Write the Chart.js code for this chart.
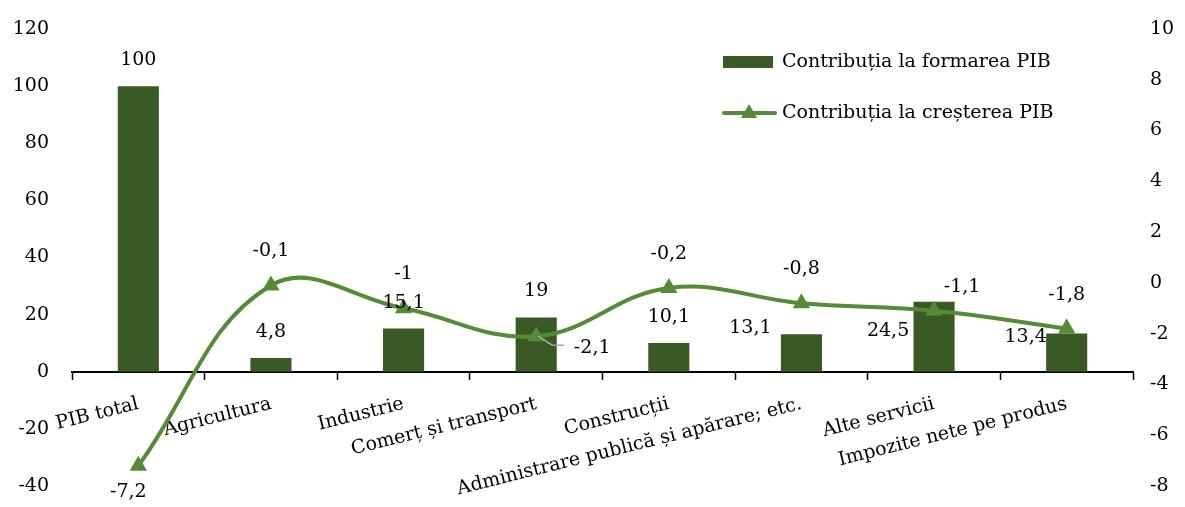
<!DOCTYPE html>
<html>
<head>
<meta charset="utf-8">
<script src="https://cdn.jsdelivr.net/npm/chart.js@4.4.1/dist/chart.umd.min.js"></script>
<style>
  html, body { margin: 0; padding: 0; background: #fff; }
  #wrap { width: 1185px; height: 507px; }
</style>
</head>
<body>
<div id="wrap"><canvas id="chart"></canvas></div>
<script>
var categorii = ['PIB total', 'Agricultura', 'Industrie', 'Comerț și transport', 'Construcții',
    'Administrare publică și apărare; etc.', 'Alte servicii', 'Impozite nete pe produs'];
var formarea = [100, 4.8, 15.1, 19, 10.1, 13.1, 24.5, 13.4];
var crestere = [-7.2, -0.1, -1, -2.1, -0.2, -0.8, -1.1, -1.8];
var numeFormarea = 'Contribuția la formarea PIB';
var numeCrestere = 'Contribuția la creșterea PIB';

// deplasari manuale ale etichetelor (px), ca in original
var nudgeBar = [[0, 0], [0, 0], [0, 0], [0, 0], [0, 0], [-51, 20], [-46, 55], [-41, 30]];
var nudgeLine = [[-10, 60], [0, 0], [0, 0], [56, 46], [0, 0], [0, 0], [28, 10], [0, 0]];

var culoareBare = '#3a5a25';
var culoareLinie = '#558a36';
var font = '"DejaVu Serif", serif';

function fmt(v) {
    return String(v).replace('.', ',');
}

// fara spatiu suplimentar sus/jos de la etichetele axelor Y
function fixY(width) {
    return function (s) {
        s.width = width;
        s.paddingTop = 0;
        s.paddingBottom = 0;
    };
}

var etichete = {
    id: 'etichete',
    afterDatasetsDraw: function (chart) {
        var ctx = chart.ctx;
        ctx.save();
        ctx.font = '19px ' + font;
        ctx.fillStyle = '#000';
        ctx.textAlign = 'center';
        ctx.textBaseline = 'middle';
        chart.getDatasetMeta(0).data.forEach(function (el, i) {
            ctx.fillText(fmt(formarea[i]), el.x + nudgeBar[i][0], el.y - 26 + nudgeBar[i][1]);
        });
        chart.getDatasetMeta(1).data.forEach(function (el, i) {
            if (i === 3) {
                ctx.strokeStyle = '#a6a6a6';
                ctx.lineWidth = 1.5;
                ctx.beginPath();
                ctx.moveTo(el.x + 2, el.y);
                ctx.lineTo(el.x + 16, el.y + 9);
                ctx.lineTo(el.x + 28, el.y + 9);
                ctx.stroke();
            }
            ctx.fillText(fmt(crestere[i]), el.x + nudgeLine[i][0], el.y - 34 + nudgeLine[i][1]);
        });
        ctx.restore();
    },
    afterDraw: function (chart) {
        var ctx = chart.ctx;
        ctx.save();
        ctx.fillStyle = culoareBare;
        ctx.fillRect(723, 56, 50, 12);
        ctx.strokeStyle = culoareLinie;
        ctx.lineWidth = 4;
        ctx.lineCap = 'round';
        ctx.beginPath();
        ctx.moveTo(724, 113);
        ctx.lineTo(775, 113);
        ctx.stroke();
        ctx.fillStyle = culoareLinie;
        ctx.beginPath();
        ctx.moveTo(749, 104);
        ctx.lineTo(757, 118);
        ctx.lineTo(741, 118);
        ctx.closePath();
        ctx.fill();
        ctx.font = '19px ' + font;
        ctx.fillStyle = '#000';
        ctx.textAlign = 'left';
        ctx.textBaseline = 'middle';
        ctx.fillText(numeFormarea, 782, 62);
        ctx.fillText(numeCrestere, 782, 113);
        ctx.restore();
    }
};

var ctx = document.getElementById('chart').getContext('2d');
var chart = new Chart(ctx, {
    type: 'bar',
    data: {
        labels: categorii,
        datasets: [{
            type: 'bar',
            label: numeFormarea,
            data: formarea,
            yAxisID: 'y',
            backgroundColor: culoareBare,
            barPercentage: 0.62,
            categoryPercentage: 0.5,
            order: 2
        }, {
            type: 'line',
            label: numeCrestere,
            data: crestere,
            yAxisID: 'y1',
            borderColor: culoareLinie,
            backgroundColor: culoareLinie,
            borderWidth: 4,
            tension: 0.4,
            pointStyle: 'triangle',
            pointRadius: 10,
            pointBorderWidth: 0,
            order: 1
        }]
    },
    options: {
        responsive: true,
        maintainAspectRatio: false,
        animation: false,
        layout: { padding: { left: 0, right: 0, top: 29, bottom: 21 } },
        plugins: {
            legend: { display: false },
            tooltip: { enabled: false }
        },
        scales: {
            x: {
                position: { y: 0 },
                offset: true,
                grid: {
                    offset: true,
                    drawOnChartArea: false,
                    drawTicks: true,
                    tickLength: 7,
                    tickColor: '#000',
                    tickWidth: 1.5
                },
                border: { display: true, color: '#000', width: 2 },
                ticks: {
                    autoSkip: false,
                    maxRotation: 14,
                    minRotation: 14,
                    labelOffset: 0,
                    padding: 14,
                    color: '#000',
                    font: { family: font, size: 19 }
                }
            },
            y: {
                position: 'left',
                min: -40,
                max: 120,
                grid: { display: false, drawTicks: false },
                border: { display: false },
                afterFit: fixY(72),
                ticks: {
                    stepSize: 20,
                    padding: 23,
                    color: '#000',
                    font: { family: font, size: 19 }
                }
            },
            y1: {
                position: 'right',
                min: -8,
                max: 10,
                grid: { display: false, drawTicks: false },
                border: { display: false },
                afterFit: fixY(52),
                ticks: {
                    stepSize: 2,
                    padding: 17,
                    color: '#000',
                    font: { family: font, size: 19 }
                }
            }
        }
    },
    plugins: [etichete]
});
</script>
</body>
</html>
